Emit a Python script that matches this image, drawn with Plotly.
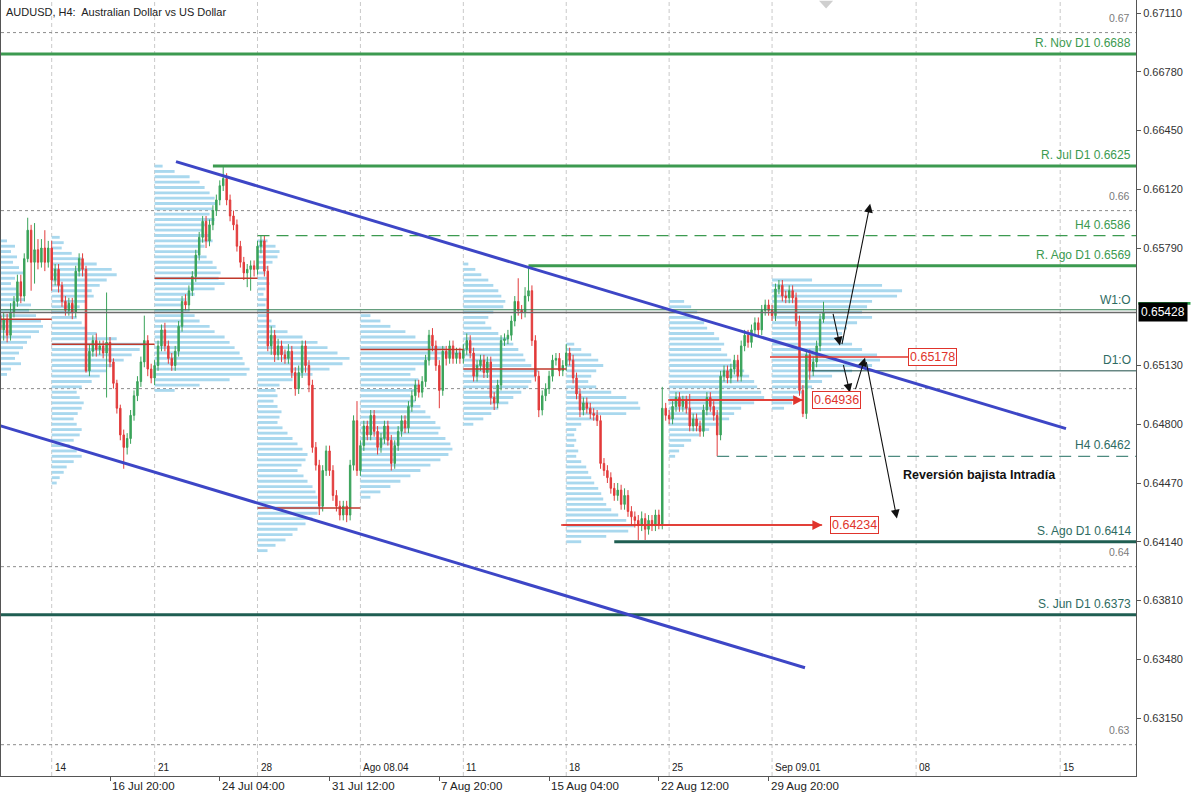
import numpy as np
import plotly.graph_objects as go

# ---------------- data ----------------
FIRST_BAR = -15            # bar index of the first visible H4 bar (Mon 14 Jul 00:00 = 0)
first_open = 0.6541
closes = [
    0.6533, 0.6539, 0.6530, 0.6543, 0.6549, 0.6560, 0.6552, 0.6573, 0.6589, 0.6571,
    0.6578, 0.6571, 0.6579, 0.6571, 0.6579, 0.6561, 0.6567, 0.6558, 0.6549, 0.6544,
    0.6548, 0.6543, 0.6566, 0.6573, 0.6567, 0.6510, 0.6521, 0.6527, 0.6522, 0.6524,
    0.6520, 0.6526, 0.6515, 0.6503, 0.6489, 0.6474, 0.6467, 0.6472, 0.6485, 0.6496,
    0.6504, 0.6515, 0.6527, 0.6511, 0.6506, 0.6513, 0.6524, 0.6533, 0.6524, 0.6517,
    0.6513, 0.6521, 0.6535, 0.6549, 0.6547, 0.6555, 0.6563, 0.6575, 0.6585, 0.6594,
    0.6583, 0.6592, 0.6600, 0.6606, 0.6614, 0.6618, 0.6606, 0.6597, 0.6592, 0.6580,
    0.6571, 0.6565, 0.6567, 0.6569, 0.6567, 0.6580, 0.6583, 0.6566, 0.6524, 0.6530,
    0.6519, 0.6524, 0.6519, 0.6517, 0.6521, 0.6509, 0.6500, 0.6509, 0.6524, 0.6513,
    0.6502, 0.6467, 0.6457, 0.6434, 0.6454, 0.6465, 0.6454, 0.6440, 0.6434, 0.6429,
    0.6434, 0.6429, 0.6457, 0.6482, 0.6454, 0.6468, 0.6479, 0.6474, 0.6485, 0.6476,
    0.6467, 0.6472, 0.6479, 0.6471, 0.6458, 0.6468, 0.6476, 0.6482, 0.6478, 0.6490,
    0.6496, 0.6502, 0.6498, 0.6504, 0.6516, 0.6530, 0.6524, 0.6513, 0.6499, 0.6521,
    0.6517, 0.6524, 0.6517, 0.6520, 0.6517, 0.6522, 0.6527, 0.6520, 0.6507, 0.6513,
    0.6516, 0.6509, 0.6515, 0.6495, 0.6492, 0.6502, 0.6527, 0.6528, 0.6530, 0.6538,
    0.6549, 0.6544, 0.6543, 0.6552, 0.6555, 0.6527, 0.6507, 0.6488, 0.6496, 0.6500,
    0.6507, 0.6516, 0.6517, 0.6510, 0.6513, 0.6520, 0.6516, 0.6506, 0.6497, 0.6488,
    0.6492, 0.6489, 0.6486, 0.6485, 0.6482, 0.6458, 0.6454, 0.6450, 0.6444, 0.6440,
    0.6443, 0.6435, 0.6440, 0.6431, 0.6428, 0.6426, 0.6423, 0.6427, 0.6421, 0.6426,
    0.6423, 0.6429, 0.6424, 0.6489, 0.6485, 0.6483, 0.6490, 0.6495, 0.6490, 0.6493,
    0.6489, 0.6479, 0.6483, 0.6479, 0.6476, 0.6488, 0.6495, 0.6490, 0.6485, 0.6474,
    0.6507, 0.6510, 0.6506, 0.6511, 0.6516, 0.6507, 0.6524, 0.6530, 0.6526, 0.6533,
    0.6537, 0.6533, 0.6544, 0.6547, 0.6544, 0.6541, 0.6556, 0.6558, 0.6552, 0.6551,
    0.6555, 0.6551, 0.6538, 0.6499, 0.6486, 0.6519, 0.6510, 0.6515, 0.6524, 0.6539,
    0.65428,
]
upper_wick_pips = [
    3, 4, 3, 5, 3, 4, 4, 3, 7, 3,
    15, 6, 5, 10, 4, 4, 3, 3, 2, 3,
    3, 3, 3, 3, 3, 2, 4, 3, 4, 3,
    3, 28, 3, 2, 2, 2, 3, 3, 3, 3,
    3, 3, 14, 3, 3, 3, 3, 3, 4, 3,
    3, 3, 3, 3, 4, 3, 3, 3, 3, 3,
    3, 3, 3, 3, 3, 7, 3, 3, 3, 3,
    3, 3, 3, 3, 3, 3, 3, 3, 3, 5,
    3, 4, 3, 3, 4, 3, 3, 4, 3, 3,
    3, 3, 3, 3, 3, 3, 3, 3, 3, 3,
    3, 3, 3, 3, 11, 3, 3, 3, 3, 3,
    3, 3, 3, 3, 3, 3, 3, 3, 3, 3,
    3, 3, 3, 3, 3, 3, 4, 3, 3, 3,
    3, 3, 3, 3, 3, 3, 4, 3, 3, 3,
    3, 3, 3, 3, 3, 3, 3, 3, 3, 3,
    3, 13, 3, 5, 14, 3, 3, 3, 3, 3,
    3, 3, 3, 3, 3, 5, 3, 3, 3, 3,
    3, 3, 3, 3, 3, 3, 3, 3, 3, 3,
    4, 3, 4, 3, 3, 3, 3, 4, 3, 3,
    3, 3, 3, 12, 3, 3, 3, 3, 3, 3,
    3, 8, 3, 3, 3, 3, 3, 3, 3, 3,
    3, 3, 3, 3, 3, 3, 3, 3, 3, 3,
    3, 3, 3, 3, 3, 3, 3, 3, 3, 3,
    3, 3, 3, 3, 3, 3, 3, 3, 3, 3,
    6,
]
lower_wick_pips = [
    5, 6, 4, 3, 3, 3, 4, 3, 2, 16,
    12, 4, 3, 5, 3, 6, 3, 4, 3, 3,
    3, 4, 3, 3, 4, 1, 3, 3, 4, 3,
    3, 25, 3, 3, 3, 3, 12, 4, 3, 3,
    3, 3, 3, 4, 3, 4, 3, 3, 3, 3,
    3, 3, 3, 3, 3, 3, 3, 3, 3, 3,
    4, 3, 3, 3, 3, 3, 3, 3, 3, 3,
    3, 4, 8, 12, 4, 3, 4, 3, 3, 5,
    4, 3, 4, 3, 3, 3, 4, 3, 3, 4,
    4, 3, 3, 5, 3, 3, 3, 3, 3, 3,
    3, 4, 3, 3, 3, 3, 3, 3, 3, 3,
    4, 3, 3, 3, 4, 3, 3, 3, 3, 3,
    3, 3, 3, 3, 3, 3, 3, 3, 10, 3,
    4, 3, 3, 3, 3, 3, 3, 3, 3, 3,
    3, 3, 3, 4, 4, 3, 3, 3, 3, 3,
    3, 3, 4, 3, 3, 3, 3, 4, 3, 3,
    3, 3, 3, 3, 3, 3, 3, 3, 3, 4,
    3, 3, 3, 3, 3, 3, 3, 3, 3, 3,
    3, 3, 3, 3, 5, 4, 8, 3, 6, 3,
    3, 3, 3, 3, 3, 3, 3, 3, 3, 3,
    3, 3, 3, 3, 3, 3, 3, 3, 3, 12,
    3, 3, 3, 3, 3, 3, 3, 3, 3, 3,
    3, 3, 3, 3, 3, 3, 3, 3, 3, 3,
    3, 3, 3, 3, 2, 3, 5, 3, 3, 3,
    2,
]

# weekly volume profiles: (base bar, top price, volumes top->bottom, bin 0.0003)
PROFILE_STEP = 0.0003
profile_bases = [None, 0, 30, 60, 90, 120, 150, 180, 210]
profile_tops = [0.6583, 0.6585, 0.6625, 0.6583, 0.6541, 0.6570, 0.6525, 0.6549, 0.6561]
profile_vols = [
    [6, 14, 10, 16, 12, 18, 22, 14, 10, 15, 20, 24, 30, 28, 35, 40, 42, 38, 30, 26, 22, 18, 14, 20, 10, 6],
    [8, 12, 10, 20, 30, 45, 60, 65, 55, 48, 40, 42, 35, 28, 22, 25, 30, 35, 45, 65, 95, 88, 80, 72, 62,
     55, 48, 40, 30, 25, 28, 32, 30, 26, 22, 25, 30, 28, 22, 18, 25, 30, 22, 15, 12, 8, 5],
    [8, 20, 35, 45, 50, 55, 60, 62, 58, 55, 60, 52, 48, 55, 58, 50, 45, 52, 58, 62, 66, 64, 70, 60, 40,
     32, 28, 35, 40, 45, 55, 60, 70, 75, 80, 85, 88, 90, 95, 92, 75, 45, 20],
    [10, 18, 22, 20, 15, 10, 8, 10, 12, 8, 6, 10, 8, 12, 10, 14, 18, 30, 45, 60, 70, 80, 92, 85, 72,
     55, 35, 22, 18, 20, 16, 20, 24, 22, 20, 25, 30, 35, 40, 45, 50, 48, 44, 40, 46, 50, 55, 58, 60,
     62, 65, 60, 55, 48, 40, 35, 28, 18, 10],
    [10, 20, 30, 45, 55, 70, 85, 100, 80, 65, 55, 50, 58, 60, 55, 50, 55, 60, 65, 70, 75, 80, 78, 85,
     90, 92, 88, 80, 70, 60, 50, 40, 30, 20, 10],
    [5, 12, 18, 25, 30, 35, 38, 42, 40, 30, 25, 22, 28, 35, 45, 50, 55, 60, 62, 68, 75, 72, 68, 65, 58,
     50, 45, 35, 28, 20, 10],
    [8, 15, 25, 32, 37, 30, 25, 22, 30, 45, 60, 72, 74, 60, 30, 15, 10, 8, 10, 8, 12, 10, 15, 20, 22,
     25, 28, 32, 35, 37, 40, 45, 52, 60, 68, 62, 40, 15],
    [15, 22, 28, 30, 35, 38, 45, 50, 55, 52, 58, 62, 70, 75, 80, 85, 88, 92, 95, 85, 72, 65, 60, 50, 40,
     30, 22, 15, 10, 6],
    [40, 110, 130, 125, 100, 95, 90, 100, 85, 75, 70, 72, 80, 90, 105, 108, 100, 80, 60, 50, 40, 30,
     25, 20, 12],
]
BARS_PER_VOL = 1 / 3.43
poc_prices = [0.6539, 0.6525, 0.6562, 0.6433, 0.6522, 0.6511]
poc_starts = [-30, 0, 30, 60, 90, 120]

# horizontal levels (label, price, start bar or None=full, style)
levels = [
    ("R. Nov D1 0.6688", 0.6688, None, "res"),
    ("R. Jul D1 0.6625", 0.6625, 47, "res"),
    ("H4 0.6586", 0.6586, 60, "h4g"),
    ("R. Ago D1 0.6569", 0.6569, 139, "res"),
    ("H4 0.6462", 0.6462, 194, "h4t"),
    ("S. Ago D1 0.6414", 0.6414, 164, "sup"),
    ("S. Jun D1 0.6373", 0.6373, None, "sup"),
]
w1_open = 0.65443
d1_open = 0.6510
d1_start = 221.6
last_price = 0.65428
round_levels = [0.67, 0.66, 0.65, 0.64, 0.63]
round_labels = {0.67: "0.67", 0.66: "0.66", 0.64: "0.64", 0.63: "0.63"}

# trend channel anchors (bar, price)
upper_tl = ([36.24, 295.7], [0.662753, 0.647753])
lower_tl = ([-15.07, 219.6], [0.647921, 0.634326])

# analyst arrows: (tail bar, tail price, head bar, head price)
black_arrows = [
    (227.7, 0.65429, 229.8, 0.65242),
    (230.3, 0.65242, 238.6, 0.66039),
    (230.7, 0.65140, 232.7, 0.64978),
    (234.2, 0.64989, 237.1, 0.65174),
    (237.4, 0.65157, 246.4, 0.64270),
]
# marked levels (price, line start bar, line end bar, arrow?, box left bar)
marked = [
    (0.65178, 209.4, 249.7, False, 249.7),
    (0.64936, 179.7, 219.0, True, 221.7),
    (0.64234, 148.5, 224.6, True, 226.9),
]
note_text = "Reversión bajista Intradía"
note_pos = (247.5, 0.64517)

week_starts = [0, 30, 60, 90, 120, 150, 180, 210, 252, 294]
week_labels = ["14", "21", "28", "Ago 08.04", "11", "18", "25", "Sep 09.01", "08", "15"]
time_ticks = [-15, 17, 49, 81, 113, 145, 177, 209]
time_labels = ["9 Jul 2025", "16 Jul 20:00", "24 Jul 04:00", "31 Jul 12:00",
               "7 Aug 20:00", "15 Aug 04:00", "22 Aug 12:00", "29 Aug 20:00"]
price_ticks = [0.6315, 0.6348, 0.6381, 0.6414, 0.6447, 0.6480, 0.6513,
               0.6579, 0.6612, 0.6645, 0.6678, 0.6711]

# ---------------- figure ----------------
X_LEFT, X_RIGHT = -14.78, 316.1
Y_MIN, Y_MAX = 0.628242, 0.67183
FONT = "Liberation Sans, Arial, sans-serif"
GREEN = "#3aa35a"
RED = "#e23b3b"
RES_C = "#3c9a50"
SUP_C = "#1f5e52"
TEAL_TXT = "#2e6b62"
BLUE = "#3d46c6"
PROF_C = "#a9d8ee"
POC_C = "#c0392b"
BOX_RED = "#e0342c"

bars = list(range(FIRST_BAR, FIRST_BAR + len(closes)))
opens = [first_open] + closes[:-1]
highs = [max(o, c) + u * 1e-4 for o, c, u in zip(opens, closes, upper_wick_pips)]
lows = [min(o, c) - l * 1e-4 for o, c, l in zip(opens, closes, lower_wick_pips)]

fig = go.Figure()

# volume profiles
for base, top, vols in zip(profile_bases, profile_tops, profile_vols):
    b = X_LEFT if base is None else base
    prices = [top - i * PROFILE_STEP for i in range(len(vols))]
    fig.add_trace(go.Bar(
        x=[v * BARS_PER_VOL for v in vols], y=prices, base=b, orientation="h",
        width=0.00016, marker=dict(color=PROF_C, line=dict(width=0)),
        hoverinfo="skip", showlegend=False))

# POC lines of finished weeks
for p, s in zip(poc_prices, poc_starts):
    fig.add_trace(go.Scatter(x=[s, s + 30], y=[p, p], mode="lines",
                             line=dict(color=POC_C, width=1.5), hoverinfo="skip", showlegend=False))

# candles
fig.add_trace(go.Candlestick(
    x=bars, open=opens, high=highs, low=lows, close=closes,
    increasing=dict(line=dict(color=GREEN, width=1), fillcolor=GREEN),
    decreasing=dict(line=dict(color=RED, width=1), fillcolor=RED),
    whiskerwidth=0, hoverinfo="skip", showlegend=False))

# horizontal levels
for label, p, start, style in levels:
    s = X_LEFT if start is None else start
    if style == "res":
        ln = dict(color=RES_C, width=3)
    elif style == "sup":
        ln = dict(color=SUP_C, width=3)
    elif style == "h4g":
        ln = dict(color=RES_C, width=1.3, dash="12px,7px")
    else:
        ln = dict(color="#4d8a80", width=1.3, dash="12px,7px")
    fig.add_trace(go.Scatter(x=[s, X_RIGHT], y=[p, p], mode="lines", line=ln,
                             hoverinfo="skip", showlegend=False))

fig.add_trace(go.Scatter(x=[X_LEFT, X_RIGHT], y=[w1_open, w1_open], mode="lines",
                         line=dict(color="#2e7d4f", width=1), hoverinfo="skip", showlegend=False))
fig.add_trace(go.Scatter(x=[X_LEFT, X_RIGHT], y=[last_price, last_price], mode="lines",
                         line=dict(color="#6b6b6b", width=1.6), hoverinfo="skip", showlegend=False))
fig.add_trace(go.Scatter(x=[d1_start, X_RIGHT], y=[d1_open, d1_open], mode="lines",
                         line=dict(color="#1d4d47", width=1), hoverinfo="skip", showlegend=False))

# trend channel
for xs, ys in (upper_tl, lower_tl):
    fig.add_trace(go.Scatter(x=xs, y=ys, mode="lines", line=dict(color=BLUE, width=3),
                             hoverinfo="skip", showlegend=False))

# marked level lines
for p, s, e, arrow, boxl in marked:
    fig.add_trace(go.Scatter(x=[s, e], y=[p, p], mode="lines", line=dict(color=BOX_RED, width=1.5),
                             hoverinfo="skip", showlegend=False))

shapes = []
for k in week_starts:
    shapes.append(dict(type="line", xref="x", yref="paper", x0=k, x1=k, y0=0, y1=1,
                       line=dict(color="#c9c9c9", width=1, dash="4px,3px"), layer="below"))
for p in round_levels:
    shapes.append(dict(type="line", xref="paper", yref="y", x0=0, x1=1, y0=p, y1=p,
                       line=dict(color="#8c8c8c", width=1, dash="3px,3px"), layer="below"))

def to_paper(p):
    return (p - Y_MIN) / (Y_MAX - Y_MIN)

# green strip above the price label
shapes.append(dict(type="rect", xref="paper", yref="paper", x0=1.002, x1=1.048,
                   y0=to_paper(last_price) + 0.0098, y1=to_paper(last_price) + 0.0135,
                   fillcolor="#2e9e4a", line=dict(width=0)))
# chart shift marker
shapes.append(dict(type="path", xref="x", yref="paper",
                   path="M 223.7 0.999 L 227.8 0.999 L 225.75 0.989 Z",
                   fillcolor="#cfcfcf", line=dict(width=0)))

ann = []
ann.append(dict(text="AUDUSD, H4:  Australian Dollar vs US Dollar", xref="paper", yref="paper",
                x=0.003, y=1 - 12 / 776, xanchor="left", yanchor="middle", showarrow=False,
                font=dict(size=11, color="#222", family=FONT)))

for k, t in zip(week_starts, week_labels):
    ann.append(dict(text=t, xref="x", yref="paper", x=k, y=0, xanchor="left", yanchor="bottom",
                    xshift=1, yshift=1, showarrow=False, font=dict(size=10, color="#222", family=FONT)))
for k, t in zip(time_ticks, time_labels):
    ann.append(dict(text=t, xref="x", yref="paper", x=k, y=0, xanchor="left", yanchor="top",
                    xshift=0, yshift=-2, showarrow=False, font=dict(size=11.5, color="#222", family=FONT)))

for label, p, start, style in levels:
    col = RES_C if style in ("res", "h4g") else TEAL_TXT
    ann.append(dict(text=label, xref="paper", yref="y", x=1, y=p, xanchor="right", yanchor="bottom",
                    xshift=-3, yshift=2, showarrow=False, font=dict(size=12, color=col, family=FONT)))
ann.append(dict(text="W1:O", xref="paper", yref="y", x=1, y=w1_open, xanchor="right", yanchor="bottom",
                xshift=-3, yshift=1, showarrow=False, font=dict(size=12, color=TEAL_TXT, family=FONT)))
ann.append(dict(text="D1:O", xref="paper", yref="y", x=1, y=d1_open, xanchor="right", yanchor="bottom",
                xshift=-3, yshift=2, showarrow=False, font=dict(size=12, color=TEAL_TXT, family=FONT)))
for p, t in round_labels.items():
    ann.append(dict(text=t, xref="paper", yref="y", x=1, y=p, xanchor="right", yanchor="bottom",
                    xshift=-4, yshift=7, showarrow=False, font=dict(size=10.5, color="#7a7a7a", family=FONT)))

for tx, ty, hx, hy in black_arrows:
    ann.append(dict(text="", x=hx, y=hy, ax=tx, ay=ty, xref="x", yref="y", axref="x", ayref="y",
                    showarrow=True, arrowhead=2, arrowsize=1.6, arrowwidth=1.1, arrowcolor="#111"))

for p, s, e, arrow, boxl in marked:
    if arrow:
        ann.append(dict(text="", x=e, y=p, ax=s, ay=p, xref="x", yref="y", axref="x", ayref="y",
                        showarrow=True, arrowhead=2, arrowsize=1.3, arrowwidth=1.5, arrowcolor=BOX_RED))
    ann.append(dict(text=f"{p:.5f}", xref="x", yref="y", x=boxl, y=p, xanchor="left", yanchor="middle",
                    showarrow=False, bgcolor="white", bordercolor=BOX_RED, borderwidth=1, borderpad=1,
                    font=dict(size=12.5, color=BOX_RED, family=FONT)))

ann.append(dict(text=f"<b>{note_text}</b>", xref="x", yref="y", x=note_pos[0], y=note_pos[1],
                xanchor="left", yanchor="middle", showarrow=False,
                font=dict(size=12.5, color="#111", family=FONT)))

ann.append(dict(text=f"{last_price:.5f}", xref="paper", yref="y", x=1, y=last_price, xanchor="left",
                yanchor="middle", xshift=2, showarrow=False, bgcolor="#000", borderpad=2,
                font=dict(size=12, color="white", family=FONT)))

fig.update_layout(
    width=1200, height=800,
    margin=dict(l=1, r=64, t=0, b=24),
    paper_bgcolor="white", plot_bgcolor="white",
    barmode="overlay", boxgap=0.4,
    showlegend=False,
    font=dict(family=FONT, color="#222"),
    shapes=shapes, annotations=ann,
    xaxis=dict(range=[X_LEFT, X_RIGHT], showgrid=False, zeroline=False, showline=True, mirror=True,
               linecolor="#555", linewidth=1, ticks="outside", ticklen=4, tickcolor="#555",
               tickvals=time_ticks, showticklabels=False, rangeslider=dict(visible=False),
               fixedrange=True),
    yaxis=dict(range=[Y_MIN, Y_MAX], side="right", showgrid=False, zeroline=False, showline=True,
               mirror=True, linecolor="#555", linewidth=1, ticks="outside", ticklen=4, tickcolor="#555",
               tickvals=price_ticks, ticktext=[f"{v:.5f}" for v in price_ticks],
               tickfont=dict(size=11, color="#333", family=FONT), fixedrange=True),
)

fig.write_html("out.html", config={"displayModeBar": False, "staticPlot": False},
               post_script="document.body.style.margin='0';document.body.style.overflow='hidden';")
